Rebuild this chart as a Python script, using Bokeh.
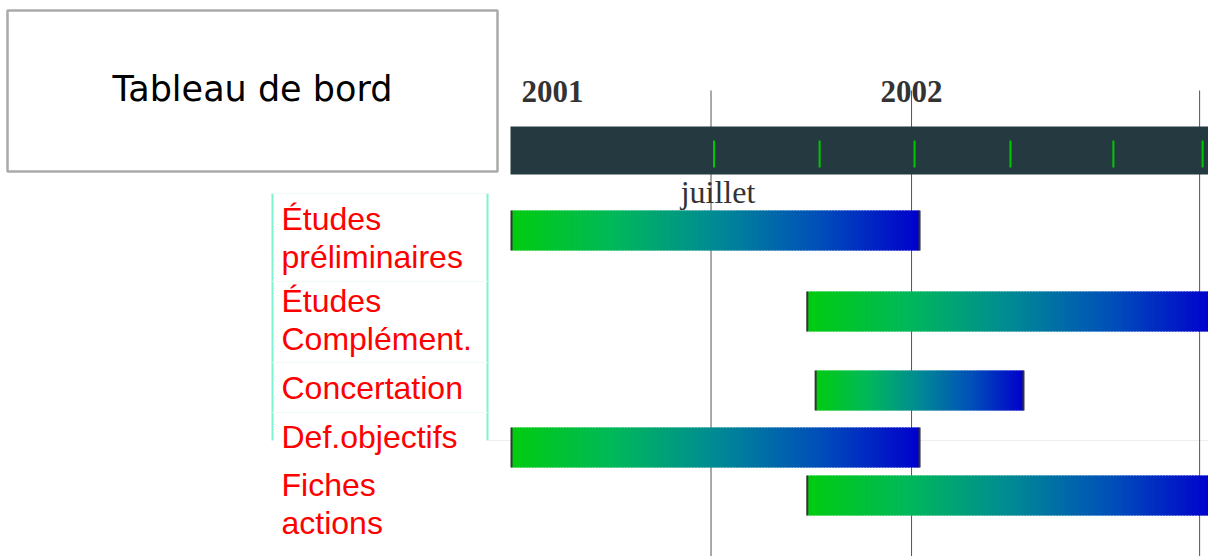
import numpy as np
from bokeh.plotting import figure
from bokeh.models import Range1d, ColumnDataSource
from bokeh.embed import file_html
from bokeh.resources import INLINE
from bokeh.core.properties import value

# ---------------- data ----------------
title = "Tableau de bord"
tasks = ["Études\npréliminaires", "Études\nComplément.", "Concertation",
         "Def.objectifs", "Fiches\nactions"]
task_start = [0.03, 8.88, 9.13, 0.03, 8.88]      # months since 1 Jan 2001
task_end = [12.24, 21.0, 15.35, 12.24, 21.0]
year_labels = ["2001", "2002"]
year_months = [0.0, 12.0]
grid_months = [6.0, 12.0, 20.62]
milestone_months = [6.09, 9.25, 12.09, 14.96, 18.04, 20.71]
month_label = "juillet"
month_label_month = 6.0

# ---------------- layout ----------------
W, H = 1208, 556
PPM = 33.42          # pixels per month
X0 = 510             # canvas x of month 0


def mx(px):
    return (px - X0) / PPM


bar_top = [210, 291, 370, 427, 475]
BAR_H = 40
label_top = [200, 282, 369, 418, 466]
LABEL_X = 281

p = figure(width=W, height=H, x_range=Range1d(mx(0), mx(W)),
           y_range=Range1d(H, 0), output_backend="svg",
           toolbar_location=None, min_border=0,
           x_axis_type=None, y_axis_type=None)
p.grid.visible = False
p.outline_line_color = None
p.background_fill_color = "white"
p.border_fill_color = "white"

# table of labels
p.segment(x0=[mx(272), mx(487)], x1=[mx(272), mx(487)], y0=[193, 193], y1=[440, 440],
          line_color="#7ff3cf", line_width=2)
p.segment(x0=[mx(272)] * 4, x1=[mx(487)] * 4, y0=[193, 281, 362, 412], y1=[193, 281, 362, 412],
          line_color="#eefbf7", line_width=1)
p.segment(x0=[mx(487)], x1=[mx(W)], y0=[440], y1=[440], line_color="#eeeeee", line_width=1)

# vertical grid lines
p.segment(x0=grid_months, x1=grid_months, y0=[90] * len(grid_months), y1=[H] * len(grid_months),
          line_color="#555555", line_width=1)

# timeline band
p.quad(left=[0.0], right=[mx(W) + 1], top=[126], bottom=[174],
       fill_color="#253a40", line_color=None)
p.segment(x0=milestone_months, x1=milestone_months,
          y0=[140] * len(milestone_months), y1=[167] * len(milestone_months),
          line_color="#00c800", line_width=2)

# year labels
p.text(x=[year_months[0]], y=[91], text=[year_labels[0]], x_offset=11,
       text_font=value("Liberation Serif"), text_font_style="bold",
       text_font_size="31px", text_color="#333333",
       text_align="left", text_baseline="alphabetic")
p.text(x=year_months[1:], y=[91] * (len(year_months) - 1), text=year_labels[1:],
       text_font=value("Liberation Serif"), text_font_style="bold",
       text_font_size="31px", text_color="#333333",
       text_align="center", text_baseline="alphabetic")

# gradient bars
stops = [(0.0, (0, 204, 16)), (0.25, (0, 184, 90)), (0.5, (0, 138, 148)),
         (0.75, (0, 80, 185)), (1.0, (0, 0, 204))]


def grad(t):
    for (t0, c0), (t1, c1) in zip(stops[:-1], stops[1:]):
        if t <= t1:
            f = (t - t0) / (t1 - t0)
            c = [round(a + (b - a) * f) for a, b in zip(c0, c1)]
            return "#%02x%02x%02x" % tuple(c)
    return "#%02x%02x%02x" % stops[-1][1]


N = 140
L, R, T, B, C = [], [], [], [], []
for s, e, top in zip(task_start, task_end, bar_top):
    xs = np.linspace(s, e, N + 1)
    eps = (e - s) / N * 0.6
    for i in range(N):
        L.append(xs[i])
        R.append(min(xs[i + 1] + eps, e))
        T.append(top)
        B.append(top + BAR_H)
        C.append(grad((i + 0.5) / N))
p.quad(source=ColumnDataSource(dict(left=L, right=R, top=T, bottom=B, color=C)),
       left="left", right="right", top="top", bottom="bottom",
       fill_color="color", line_color=None)

# bar edges
ex = task_start + task_end
ey0 = bar_top + bar_top
ey1 = [t + BAR_H for t in ey0]
p.segment(x0=ex, x1=ex, y0=ey0, y1=ey1, line_color="#333333", line_width=2)

# month label
p.text(x=[month_label_month], y=[191], text=[month_label], x_offset=7,
       text_font=value("Liberation Serif"), text_font_size="32px",
       text_color="#333333", text_align="center", text_baseline="alphabetic")

# task labels
p.text(x=[mx(LABEL_X)] * len(tasks), y=label_top, text=tasks,
       text_font=value("Liberation Sans"), text_font_size="32px",
       text_color="#ff0000", text_align="left", text_baseline="top",
       text_line_height=1.06)

# title box
p.quad(left=[mx(7)], right=[mx(497)], top=[10], bottom=[171],
       fill_color="white", line_color="#aaaaaa", line_width=2.5)
p.text(x=[mx(252)], y=[88], text=[title], text_font=value("DejaVu Sans"),
       text_font_size="35px", text_color="#000000",
       text_align="center", text_baseline="alphabetic")

open("out.html", "w").write(file_html(p, INLINE))
